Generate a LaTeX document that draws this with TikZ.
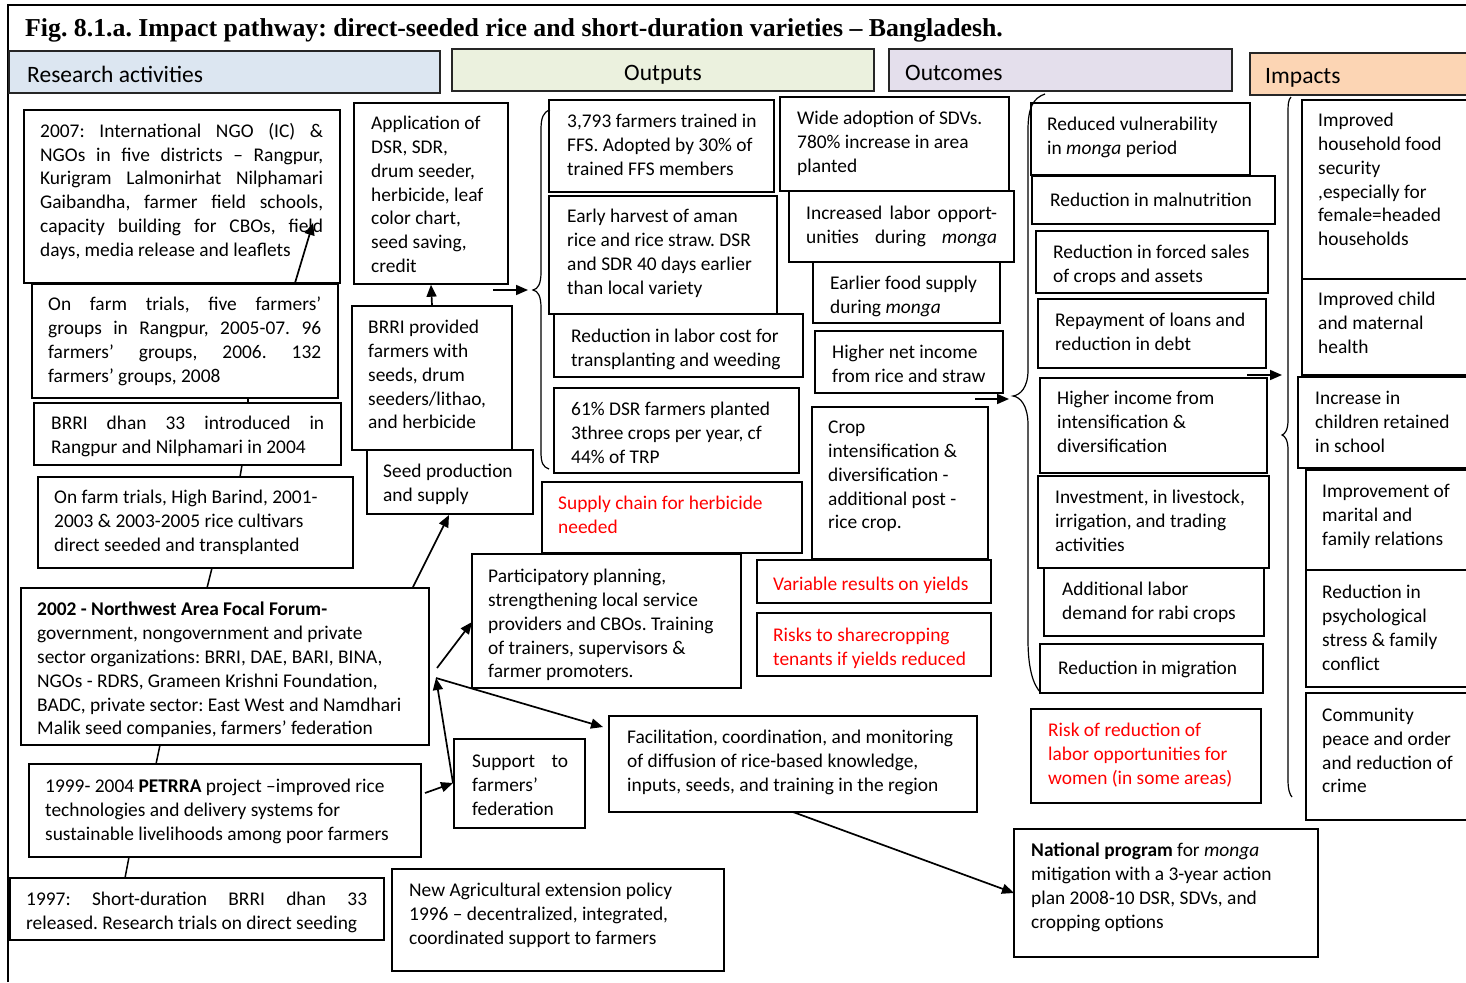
\documentclass[tikz,border=0pt]{standalone}
\usepackage{fontspec}
\setmainfont{Carlito}
\newfontfamily\titlefont{Liberation Serif}
\usetikzlibrary{arrows.meta}
\frenchspacing

\definecolor{hdrblue}{RGB}{220,230,241}
\definecolor{hdrgreen}{RGB}{235,241,222}
\definecolor{hdrlilac}{RGB}{228,223,236}
\definecolor{hdrpeach}{RGB}{252,213,180}
\definecolor{alertred}{RGB}{255,0,0}

\newcommand{\bodyfont}{\fontsize{19.4}{23.8}\selectfont}
\newcommand{\hdrfont}{\fontsize{23.5}{28}\selectfont}

% empty framed box given by its corners (x1,y1) (x2,y2)
\newcommand{\mkbox}[6][cellbox]{%
  \node[#1, minimum width={(#5-#3)*1pt}, minimum height={(#6-#4)*1pt}]
    (#2) at ({(#3+#5)/2},{(#4+#6)/2}) {};}
% text block whose first line is centred on height #4
\newcommand{\mktext}[5][]{%
  \node[celltext, #1] (#2) at (#3,{#4-7}) {#5};}
% one fully justified line of given width
\newcommand{\jline}[2]{\makebox[#1pt][s]{#2}}

\begin{document}
\begin{tikzpicture}[x=1pt,y=-1pt,
  cellbox/.style={draw=black, line width=1.4pt, inner sep=0pt},
  hdrbox/.style={draw=black!85, line width=1.3pt, inner sep=0pt},
  celltext/.style={anchor=north west, inner sep=0pt, align=left,
    font=\bodyfont, execute at begin node=\strut},
  hdrtext/.style={anchor=base west, inner sep=0pt, font=\hdrfont},
  warn/.style={text=alertred},
  link/.style={line width=1.5pt},
  flow/.style={line width=1.7pt, -{Triangle[length=12pt,width=10pt]}},
  brace/.style={line width=1.2pt},
]
\useasboundingbox (0,0) rectangle (1466,982);

% frame and title
\coordinate (frameTL) at (8,5);
\coordinate (frameTR) at (1466,5);
\coordinate (frameBL) at (8,982);
\draw[line width=1.5pt] (frameBL) -- (frameTL) -- (frameTR);
\node[anchor=base west, inner sep=0pt, font=\titlefont\bfseries\fontsize{25.8}{30}\selectfont]
  (title) at (25,37) {Fig. 8.1.a. Impact pathway: direct-seeded rice and short-duration varieties – Bangladesh.};

% column headers
\mkbox[hdrbox, fill=hdrblue]{hres}{9}{51}{440}{93}
\mkbox[hdrbox, fill=hdrgreen]{hout}{452}{49}{874}{91}
\mkbox[hdrbox, fill=hdrlilac]{hocm}{889}{49}{1232}{91}
\mkbox[hdrbox, fill=hdrpeach]{himp}{1250}{53}{1480}{95}
\node[hdrtext] (hrest) at (27,82) {Research activities};
\node[hdrtext, anchor=base] (houtt) at (663,80) {Outputs};
\node[hdrtext] (hocmt) at (905,80) {Outcomes};
\node[hdrtext] (himpt) at (1265,84) {Impacts};

% ---------------- research activities ----------------
\mkbox{a1}{24}{110}{340}{283}
\mktext{a1t}{40}{130}{\jline{283}{2007: International NGO (IC) \&}\\
  \jline{283}{NGOs in five districts – Rangpur,}\\
  \jline{283}{Kurigram Lalmonirhat Nilphamari}\\
  \jline{283}{Gaibandha, farmer field schools,}\\
  \jline{283}{capacity building for CBOs, field}\\
  days, media release and leaflets}

\mkbox{a2}{32}{284}{338}{398}
\mktext{a2t}{48}{304}{\jline{273}{On farm trials, five farmers’}\\
  \jline{273}{groups in Rangpur, 2005-07. 96}\\
  \jline{273}{farmers’ groups, 2006. 132}\\
  farmers’ groups, 2008}

\mkbox{a3}{34}{403}{341}{465}
\mktext{a3t}{51}{423}{\jline{273}{BRRI dhan 33 introduced in}\\
  Rangpur and Nilphamari in 2004}

\mkbox{a4}{38}{477}{353}{568}
\mktext{a4t}{54}{497}{On farm trials, High Barind, 2001-\\
  2003 \& 2003-2005 rice cultivars\\
  direct seeded and transplanted}

\mkbox{a5}{21}{588}{429}{745}
\mktext{a5t}{37}{609}{\textbf{2002 - Northwest Area Focal Forum-}\\
  government, nongovernment and private\\
  sector organizations: BRRI, DAE, BARI, BINA,\\
  NGOs - RDRS, Grameen Krishni Foundation,\\
  BADC, private sector: East West and Namdhari\\
  Malik seed companies, farmers’ federation}

\mkbox{a6}{29}{764}{421}{857}
\mktext{a6t}{45}{786}{1999- 2004 \textbf{PETRRA} project –improved rice\\
  technologies and delivery systems for\\
  sustainable livelihoods among poor farmers}

\mkbox{a7}{10}{878}{384}{940}
\mktext{a7t}{26}{899}{\jline{341}{1997: Short-duration BRRI dhan 33}\\
  released. Research trials on direct seeding}

\mkbox{pol}{392}{869}{724}{971}
\mktext{polt}{409}{890}{New Agricultural extension policy\\
  1996 – decentralized, integrated,\\
  coordinated support to farmers}

\mkbox{b1}{354}{103}{508}{284}
\mktext{b1t}{371}{123}{Application of\\ DSR, SDR,\\ drum seeder,\\ herbicide, leaf\\
  color chart,\\ seed saving,\\ credit}

\mkbox{b2}{352}{306}{512}{450}
\mktext{b2t}{368}{327}{BRRI provided\\ farmers with\\ seeds, drum\\ seeders/lithao,\\ and herbicide}

\mkbox{b3}{367}{450}{533}{514}
\mktext{b3t}{383}{471}{Seed production\\ and supply}

% ---------------- outputs ----------------
\mkbox{c1}{549}{100}{774}{192}
\mktext{c1t}{567}{121}{3,793 farmers trained in\\ FFS. Adopted by 30\% of\\ trained FFS members}

\mkbox{c2}{549}{196}{777}{314}
\mktext{c2t}{567}{216}{Early harvest of aman\\ rice and rice straw. DSR\\
  and SDR 40 days earlier\\ than local variety}

\mkbox{c3}{554}{314}{803}{377}
\mktext{c3t}{571}{336}{Reduction in labor cost for\\ transplanting and weeding}

\mkbox{c4}{554}{388}{799}{473}
\mktext{c4t}{571}{409}{61\% DSR farmers planted\\ 3three crops per year, cf\\ 44\% of TRP}

\mkbox{d1}{780}{97}{1009}{191}
\mktext{d1t}{797}{118}{Wide adoption of SDVs.\\ 780\% increase in area\\ planted}

\mkbox{d2}{789}{191}{1014}{262}
\mktext{d2t}{806}{213}{\jline{191}{Increased labor opport-}\\
  \jline{191}{unities during \textit{monga}}}

\mkbox{d3}{813}{262}{1000}{323}
\mktext{d3t}{830}{283}{Earlier food supply\\ during \textit{monga}}

\mkbox{d4}{815}{331}{1003}{393}
\mktext{d4t}{832}{352}{Higher net income\\ from rice and straw}

\mkbox{d5}{812}{407}{988}{559}
\mktext{d5t}{828}{428}{Crop\\ intensification \&\\ diversification -\\
  additional post -\\ rice crop.}

\mkbox{g1}{542}{482}{802}{553}
\mktext[warn]{g1t}{558}{503}{Supply chain for herbicide\\ needed}

\mkbox{g2}{472}{554}{741}{688}
\mktext{g2t}{488}{576}{Participatory planning,\\ strengthening local service\\
  providers and CBOs. Training\\ of trainers, supervisors \&\\ farmer promoters.}

\mkbox{g3}{757}{560}{991}{603}
\mktext[warn]{g3t}{773}{581}{Variable results on yields}

\mkbox{g4}{757}{613}{991}{676}
\mktext[warn]{g4t}{773}{635}{Risks to sharecropping\\ tenants if yields reduced}

\mkbox{g5}{609}{716}{977}{812}
\mktext{g5t}{627}{737}{Facilitation, coordination, and monitoring\\
  of diffusion of rice-based knowledge,\\ inputs, seeds, and training in the region}

\mkbox{g6}{454}{739}{585}{828}
\mktext{g6t}{472}{762}{\jline{96}{Support to}\\ farmers’\\ federation}

% ---------------- outcomes ----------------
\mkbox{e1}{1031}{103}{1250}{175}
\mktext{e1t}{1047}{124}{Reduced vulnerability\\ in \textit{monga} period}

\mkbox{e2}{1032}{176}{1275}{224}
\mktext{e2t}{1050}{197}{Reduction in malnutrition}

\mkbox{e3}{1036}{231}{1268}{293}
\mktext{e3t}{1053}{252}{Reduction in forced sales\\ of crops and assets}

\mkbox{e4}{1038}{299}{1266}{368}
\mktext{e4t}{1055}{320}{Repayment of loans and\\ reduction in debt}

\mkbox{e5}{1040}{378}{1267}{473}
\mktext{e5t}{1057}{398}{Higher income from\\ intensification \&\\ diversification}

\mkbox{e6}{1038}{476}{1269}{568}
\mktext{e6t}{1055}{497}{Investment, in livestock,\\ irrigation, and trading\\ activities}

\mkbox{e7}{1044}{568}{1264}{636}
\mktext{e7t}{1062}{589}{Additional labor\\ demand for rabi crops}

\mkbox{e8}{1040}{644}{1263}{693}
\mktext{e8t}{1058}{665}{Reduction in migration}

\mkbox{e9}{1031}{709}{1261}{803}
\mktext[warn]{e9t}{1048}{730}{Risk of reduction of\\ labor opportunities for\\ women (in some areas)}

\mkbox{nat}{1014}{829}{1318}{957}
\mktext{natt}{1031}{850}{\textbf{National program} for \textit{monga}\\
  mitigation with a 3-year action\\ plan 2008-10 DSR, SDVs, and\\ cropping options}

% ---------------- impacts ----------------
\mkbox{f1}{1302}{100}{1480}{279}
\mktext{f1t}{1318}{120}{Improved\\ household food\\ security\\ ,especially for\\
  female=headed\\ households}

\mkbox{f2}{1302}{279}{1480}{375}
\mktext{f2t}{1318}{299}{Improved child\\ and maternal\\ health}

\mkbox{f3}{1298}{377}{1480}{468}
\mktext{f3t}{1315}{398}{Increase in\\ children retained\\ in school}

\mkbox{f4}{1306}{470}{1480}{570}
\mktext{f4t}{1322}{491}{Improvement of\\ marital and\\ family relations}

\mkbox{f5}{1306}{570}{1480}{687}
\mktext{f5t}{1322}{592}{Reduction in\\ psychological\\ stress \& family\\ conflict}

\mkbox{f6}{1306}{693}{1480}{820}
\mktext{f6t}{1322}{715}{Community\\ peace and order\\ and reduction of\\ crime}

% ---------------- braces ----------------
\coordinate (brA) at (533,290);
\coordinate (brB) at (1013,396);
\coordinate (brC) at (1282,435);
\draw[brace] (550,110) .. controls (543,112) and (541,118) .. (541,130)
  -- (541,272) .. controls (541,284) and (538,289) .. (brA)
  .. controls (538,291) and (541,296) .. (541,308)
  -- (541,452) .. controls (541,463) and (543,467) .. (549,469);
\draw[brace] (1045,94) .. controls (1033,98) and (1028,108) .. (1028,130)
  -- (1028,370) .. controls (1028,388) and (1020,395) .. (brB)
  .. controls (1020,397) and (1028,405) .. (1028,425)
  -- (1028,640) .. controls (1028,668) and (1033,685) .. (1041,693);
\draw[brace] (1291,97) .. controls (1288,100) and (1288,105) .. (1288,115)
  -- (1288,420) .. controls (1288,430) and (1285,434) .. (brC)
  .. controls (1285,436) and (1288,440) .. (1288,450)
  -- (1288,780) .. controls (1288,790) and (1290,795) .. (1292,797);

% arrows feeding the braces
\coordinate (inA) at (493,290);
\coordinate (tipA) at (528,290);
\coordinate (inB) at (975,399);
\coordinate (tipB) at (1009,399);
\coordinate (inC) at (1247,375);
\coordinate (tipC) at (1282,375);
\draw[flow] (inA) -- (tipA);
\draw[flow] (inB) -- (tipB);
\draw[flow] (inC) -- (tipC);

% ---------------- timeline links ----------------
\coordinate (a2s) at (248,398);
\coordinate (a3n) at (248,403);
\coordinate (a3s) at (242,465);
\coordinate (a4n) at (240,477);
\coordinate (a4s) at (212,568);
\coordinate (a5n) at (207,588);
\coordinate (a5s) at (160,745);
\coordinate (a6n) at (156,764);
\coordinate (a6s) at (129,857);
\coordinate (a7n) at (125,878);
\draw[link] (a2s) -- (a3n);
\draw[link] (a3s) -- (a4n);
\draw[link] (a4s) -- (a5n);
\draw[link] (a5s) -- (a6n);
\draw[link] (a6s) -- (a7n);

% ---------------- flow arrows ----------------
\coordinate (a2up) at (295,283);
\coordinate (a1in) at (313,223);
\draw[flow] (a2up) -- (a1in);
\draw[flow] (b2.north) -- (b1.south);
\coordinate (a5ne) at (413,587);
\coordinate (b3in) at (449,515);
\draw[flow] (a5ne) -- (b3in);
\coordinate (a5r) at (437,668);
\coordinate (g2in) at (472,622);
\draw[flow] (a5r) -- (g2in);
\coordinate (hub) at (436,678);
\coordinate (g6w) at (453,783);
\coordinate (g5in) at (603,727);
\draw[flow] (g6w) -- (hub);
\draw[flow] (hub) -- (g5in);
\coordinate (a6e) at (425,793);
\draw[flow] (a6e) -- (g6w);
\coordinate (g5s) at (793,812);
\coordinate (natin) at (1014,893);
\draw[flow] (g5s) -- (natin);
\end{tikzpicture}
\end{document}
